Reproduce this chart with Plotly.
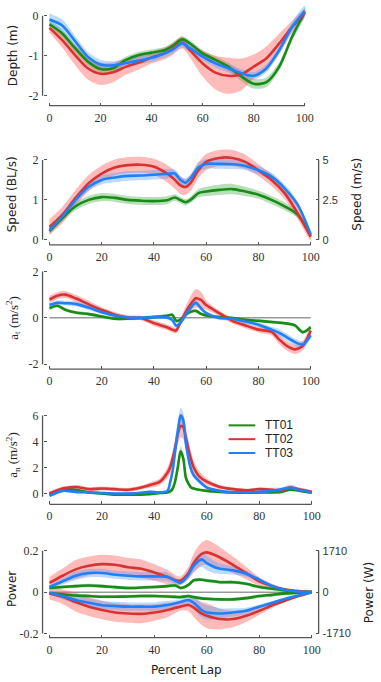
import plotly.graph_objects as go
import numpy as np

W, H = 381, 682

# ---- depth (m) ----
depth_x = [0, 5, 10, 15, 20, 25, 30, 35, 40, 45, 48, 52, 55, 60, 65, 70, 75, 80, 85, 90, 95, 100]
depth_tt01 = [-0.21, -0.44, -0.81, -1.14, -1.33, -1.31, -1.1, -0.98, -0.92, -0.86, -0.76, -0.59, -0.69, -0.94, -1.1, -1.27, -1.51, -1.7, -1.66, -1.27, -0.53, 0.09]
depth_tt02 = [-0.3, -0.61, -0.98, -1.31, -1.45, -1.41, -1.27, -1.17, -1.04, -0.94, -0.84, -0.67, -0.86, -1.19, -1.42, -1.5, -1.47, -1.27, -1.06, -0.69, -0.28, 0.07]
depth_tt03 = [-0.09, -0.24, -0.63, -1.02, -1.22, -1.24, -1.18, -1.12, -1.05, -0.94, -0.86, -0.69, -0.81, -1.02, -1.19, -1.31, -1.43, -1.5, -1.31, -0.86, -0.28, 0.12]
depth_sd01 = [0.1, 0.1, 0.1, 0.1, 0.1, 0.1, 0.08, 0.08, 0.08, 0.08, 0.08, 0.08, 0.08, 0.08, 0.08, 0.1, 0.12, 0.12, 0.12, 0.1, 0.1, 0.1]
depth_sd02 = [0.12, 0.18, 0.25, 0.28, 0.28, 0.25, 0.2, 0.17, 0.15, 0.15, 0.15, 0.15, 0.18, 0.33, 0.42, 0.45, 0.4, 0.3, 0.3, 0.25, 0.15, 0.1]
depth_sd03 = [0.15, 0.15, 0.13, 0.12, 0.12, 0.1, 0.1, 0.1, 0.1, 0.1, 0.1, 0.1, 0.1, 0.1, 0.1, 0.1, 0.1, 0.1, 0.1, 0.1, 0.12, 0.13]

# ---- speed (BL/s) ----
speed_x = [0, 5, 10, 15, 20, 25, 30, 35, 40, 45, 48, 50, 52, 54, 57, 60, 65, 70, 75, 80, 85, 90, 95, 100]
speed_tt01 = [0.22, 0.55, 0.84, 1.0, 1.07, 1.05, 1.0, 0.98, 0.97, 0.99, 1.06, 1.0, 0.94, 1.0, 1.17, 1.21, 1.25, 1.27, 1.21, 1.13, 1.0, 0.84, 0.63, 0.1]
speed_tt02 = [0.32, 0.63, 1.05, 1.42, 1.66, 1.81, 1.87, 1.88, 1.83, 1.66, 1.5, 1.37, 1.32, 1.42, 1.74, 1.95, 2.05, 2.05, 1.95, 1.74, 1.5, 1.17, 0.67, 0.08]
speed_tt03 = [0.25, 0.59, 1.0, 1.33, 1.5, 1.56, 1.6, 1.61, 1.63, 1.65, 1.66, 1.51, 1.43, 1.54, 1.81, 1.9, 1.9, 1.89, 1.85, 1.74, 1.58, 1.29, 0.88, 0.14]
speed_sd01 = [0.08, 0.1, 0.1, 0.1, 0.1, 0.1, 0.1, 0.1, 0.1, 0.1, 0.08, 0.08, 0.08, 0.08, 0.1, 0.12, 0.13, 0.13, 0.12, 0.1, 0.1, 0.1, 0.08, 0.05]
speed_sd02 = [0.2, 0.2, 0.2, 0.2, 0.2, 0.2, 0.2, 0.2, 0.2, 0.22, 0.22, 0.22, 0.2, 0.2, 0.2, 0.2, 0.2, 0.2, 0.18, 0.15, 0.15, 0.15, 0.15, 0.1]
speed_sd03 = [0.08, 0.1, 0.1, 0.1, 0.11, 0.12, 0.12, 0.12, 0.12, 0.12, 0.1, 0.1, 0.1, 0.1, 0.12, 0.12, 0.12, 0.12, 0.1, 0.1, 0.1, 0.1, 0.08, 0.05]

# ---- tangential acceleration ----
at_x = [0, 3, 6, 10, 15, 20, 25, 30, 35, 40, 45, 47, 48.5, 50, 53, 56, 58, 60, 65, 70, 75, 80, 85, 88, 91, 94, 97, 100]
at_tt01 = [0.41, 0.52, 0.35, 0.23, 0.16, 0.06, -0.04, -0.04, -0.01, 0.03, 0.09, 0.13, -0.13, -0.09, 0.2, 0.3, 0.17, 0.1, 0.03, -0.01, -0.09, -0.13, -0.18, -0.21, -0.25, -0.33, -0.62, -0.41]
at_tt02 = [0.79, 0.95, 1.0, 0.84, 0.58, 0.34, 0.13, 0.01, -0.01, -0.23, -0.41, -0.51, -0.55, -0.23, 0.41, 0.84, 0.77, 0.55, 0.2, -0.13, -0.33, -0.51, -0.61, -0.94, -1.22, -1.36, -1.2, -0.55]
at_tt03 = [0.55, 0.65, 0.63, 0.6, 0.44, 0.24, 0.1, 0.01, 0.0, 0.03, 0.01, -0.09, -0.34, -0.23, 0.27, 0.65, 0.41, 0.2, -0.01, -0.04, -0.16, -0.3, -0.51, -0.65, -0.85, -1.05, -1.15, -0.75]
at_sd01 = [0.07] * 28
at_sd02 = [0.15, 0.15, 0.15, 0.15, 0.15, 0.12, 0.12, 0.1, 0.1, 0.12, 0.12, 0.12, 0.12, 0.15, 0.3, 0.4, 0.35, 0.2, 0.12, 0.12, 0.12, 0.12, 0.15, 0.2, 0.2, 0.2, 0.2, 0.15]
at_sd03 = [0.1, 0.1, 0.1, 0.1, 0.1, 0.08, 0.08, 0.08, 0.08, 0.08, 0.08, 0.08, 0.1, 0.1, 0.1, 0.12, 0.1, 0.08, 0.08, 0.08, 0.1, 0.1, 0.12, 0.15, 0.15, 0.15, 0.15, 0.12]

# ---- normal acceleration ----
an_x = [0, 5, 10, 15, 20, 25, 30, 35, 38, 42, 45, 46, 47, 48, 49, 50, 51, 52, 53, 54, 55, 57, 60, 65, 70, 75, 80, 85, 88, 92, 95, 100]
an_tt01 = [-0.05, 0.28, 0.28, 0.08, 0.0, -0.1, -0.1, -0.1, -0.05, 0.03, 0.08, 0.15, 0.38, 1.0, 2.1, 3.24, 2.73, 1.22, 0.75, 0.46, 0.38, 0.28, 0.2, 0.12, 0.08, 0.05, 0.08, 0.08, 0.12, 0.28, 0.22, 0.08]
an_tt02 = [0.0, 0.38, 0.5, 0.33, 0.38, 0.33, 0.28, 0.46, 0.63, 0.89, 1.6, 2.0, 2.73, 3.6, 4.6, 5.2, 5.1, 4.3, 3.4, 2.6, 2.0, 1.34, 0.91, 0.5, 0.33, 0.25, 0.33, 0.28, 0.2, 0.46, 0.33, 0.12]
an_tt03 = [-0.18, 0.2, 0.12, 0.08, 0.03, 0.0, 0.0, 0.05, 0.12, 0.08, 0.2, 0.83, 1.8, 3.37, 4.9, 6.0, 5.65, 3.87, 2.7, 1.85, 1.4, 0.96, 0.46, 0.2, 0.08, 0.08, 0.12, 0.2, 0.3, 0.46, 0.28, 0.08]
an_sd01 = [0.1, 0.1, 0.1, 0.1, 0.1, 0.1, 0.1, 0.1, 0.1, 0.1, 0.1, 0.15, 0.2, 0.3, 0.35, 0.4, 0.4, 0.3, 0.2, 0.15, 0.1, 0.1, 0.1, 0.1, 0.1, 0.1, 0.1, 0.1, 0.1, 0.1, 0.1, 0.1]
an_sd02 = [0.15, 0.15, 0.15, 0.15, 0.15, 0.15, 0.15, 0.15, 0.2, 0.25, 0.4, 0.5, 0.6, 0.7, 0.8, 0.9, 0.9, 0.8, 0.7, 0.6, 0.5, 0.4, 0.25, 0.15, 0.12, 0.12, 0.12, 0.15, 0.25, 0.2, 0.15, 0.1]
an_sd03 = [0.1, 0.1, 0.1, 0.1, 0.1, 0.1, 0.1, 0.1, 0.1, 0.1, 0.15, 0.25, 0.35, 0.45, 0.55, 0.6, 0.6, 0.5, 0.4, 0.3, 0.2, 0.15, 0.1, 0.1, 0.1, 0.1, 0.1, 0.1, 0.1, 0.1, 0.1, 0.1]

# ---- power (positive / negative) ----
pw_x = [0, 5, 10, 15, 20, 25, 30, 35, 40, 45, 48, 50, 53, 55, 58, 60, 63, 65, 70, 75, 80, 85, 90, 95, 100]
pw_pos01 = [0.02, 0.025, 0.029, 0.032, 0.029, 0.024, 0.02, 0.022, 0.025, 0.029, 0.032, 0.02, 0.035, 0.057, 0.06, 0.056, 0.052, 0.048, 0.048, 0.04, 0.025, 0.016, 0.008, 0.003, 0.0]
pw_pos02 = [0.045, 0.079, 0.11, 0.127, 0.135, 0.132, 0.12, 0.113, 0.095, 0.073, 0.057, 0.056, 0.092, 0.14, 0.184, 0.192, 0.179, 0.167, 0.132, 0.092, 0.052, 0.029, 0.013, 0.005, 0.0]
pw_pos03 = [0.025, 0.052, 0.079, 0.092, 0.092, 0.084, 0.079, 0.076, 0.076, 0.074, 0.055, 0.045, 0.084, 0.127, 0.158, 0.14, 0.12, 0.113, 0.105, 0.089, 0.06, 0.029, 0.01, 0.003, 0.0]
pw_neg01 = [-0.006, -0.011, -0.016, -0.019, -0.022, -0.022, -0.021, -0.019, -0.019, -0.021, -0.023, -0.024, -0.019, -0.024, -0.03, -0.032, -0.034, -0.035, -0.035, -0.029, -0.019, -0.013, -0.006, -0.003, 0.0]
pw_neg02 = [-0.006, -0.022, -0.048, -0.07, -0.086, -0.098, -0.103, -0.105, -0.098, -0.086, -0.076, -0.07, -0.062, -0.075, -0.103, -0.114, -0.125, -0.13, -0.13, -0.114, -0.09, -0.063, -0.04, -0.019, 0.0]
pw_neg03 = [-0.003, -0.019, -0.038, -0.051, -0.063, -0.067, -0.07, -0.07, -0.07, -0.062, -0.054, -0.048, -0.038, -0.051, -0.086, -0.098, -0.102, -0.103, -0.098, -0.09, -0.07, -0.051, -0.032, -0.016, 0.0]
pw_sd01 = [0.008] * 25
pw_sd02 = [0.03, 0.035, 0.045, 0.045, 0.045, 0.045, 0.045, 0.045, 0.04, 0.035, 0.025, 0.02, 0.03, 0.045, 0.055, 0.06, 0.055, 0.05, 0.04, 0.03, 0.02, 0.012, 0.006, 0.003, 0.0]
pw_sd03 = [0.01, 0.015, 0.02, 0.02, 0.02, 0.02, 0.02, 0.02, 0.02, 0.02, 0.015, 0.012, 0.02, 0.03, 0.035, 0.035, 0.03, 0.025, 0.02, 0.015, 0.01, 0.008, 0.005, 0.002, 0.0]

names = ['TT01', 'TT02', 'TT03']
line_cols = ['#178c17', '#d83333', '#1f80fa']
band_cols = ['rgba(40,150,40,0.32)', 'rgba(255,90,90,0.42)', 'rgba(70,150,255,0.35)']

SERIF = 'Liberation Serif'
SANS = 'DejaVu Sans'


def px2y(p):
    return 1 - p / H


# panel geometry: value->pixel calibration, drawn range, axis-line extent
panels = [
    dict(cal=(0, 12, -2, 93), rng=(-2.15, 0.28), ext=(-2, 0), xax=103, xr=(50, 308), tv=[-2, -1, 0], tt=['-2', '-1', '0']),
    dict(cal=(0, 239, 2, 158), rng=(-0.12, 2.35), ext=(0, 2), xax=244, xr=(50, 314), tv=[0, 1, 2], tt=['0', '1', '2']),
    dict(cal=(0, 318, 2, 271), rng=(-2.1, 2.1), ext=(-2, 2), xax=370, xr=(50, 314), tv=[-2, 0, 2], tt=['-2', '0', '2']),
    dict(cal=(0, 496, 6, 417), rng=(-0.5, 7.0), ext=(-0.25, 6.0), xax=507, xr=(50, 315), tv=[0, 2, 4, 6], tt=['0', '2', '4', '6']),
    dict(cal=(0, 596, 0.2, 554), rng=(-0.23, 0.27), ext=(-0.2, 0.2), xax=642, xr=(50, 315), tv=[-0.2, 0, 0.2], tt=['-0.2', '0', '0.2']),
]

fig = go.Figure()
layout = {}
shapes = []
YLEFT = 43
YRIGHT = 322

for i, p in enumerate(panels):
    n = '' if i == 0 else str(i + 1)
    v0, p0, v1, p1 = p['cal']
    s = (p1 - p0) / (v1 - v0)
    top = p0 + (p['rng'][1] - v0) * s
    bot = p0 + (p['rng'][0] - v0) * s
    xs = (p['xr'][1] - p['xr'][0]) / 100.0
    xl = p['xr'][0] - 2 * xs
    xh = p['xr'][0] + 102 * xs
    layout['xaxis' + n] = dict(
        domain=[xl / W, xh / W], range=[-2, 102], anchor='free', position=px2y(p['xax']),
        showgrid=False, zeroline=False, showline=False, ticks='inside', ticklen=3,
        tickcolor='#555', tickwidth=1, tickvals=[0, 20, 40, 60, 80, 100],
        tickfont=dict(family=SERIF, size=12, color='#333'), ticklabelstandoff=3,
    )
    layout['yaxis' + n] = dict(
        domain=[px2y(bot), px2y(top)], range=list(p['rng']), anchor='free', position=YLEFT / W,
        showgrid=False, zeroline=False, showline=False, ticks='inside', ticklen=3,
        tickcolor='#555', tickwidth=1, tickvals=p['tv'], ticktext=p['tt'],
        tickfont=dict(family=SERIF, size=12, color='#333'), ticklabelstandoff=4,
    )
    # detached axis lines
    shapes.append(dict(type='line', xref='paper', yref='y' + n, x0=YLEFT / W, x1=YLEFT / W,
                       y0=p['ext'][0], y1=p['ext'][1], line=dict(color='#555', width=1.3)))
    shapes.append(dict(type='line', xref='x' + n, yref='paper', x0=0, x1=100,
                       y0=px2y(p['xax']), y1=px2y(p['xax']), line=dict(color='#555', width=1.3)))

# zero reference lines
for n in ['3', '5']:
    shapes.append(dict(type='line', xref='x' + n, yref='y' + n, x0=0, x1=100, y0=0, y1=0,
                       layer='below', line=dict(color='#999', width=1.5)))

# right-hand axes
layout['yaxis6'] = dict(
    overlaying='y2', side='right', anchor='free', position=YRIGHT / W, range=layout['yaxis2']['range'],
    showgrid=False, zeroline=False, showline=False, ticks='inside', ticklen=3, tickcolor='#555',
    tickvals=[0, 1, 2], ticktext=['0', '2.5', '5'], tickfont=dict(family='Liberation Sans', size=11, color='#333'),
    ticklabelstandoff=3,
)
layout['yaxis7'] = dict(
    overlaying='y5', side='right', anchor='free', position=YRIGHT / W, range=layout['yaxis5']['range'],
    showgrid=False, zeroline=False, showline=False, ticks='inside', ticklen=3, tickcolor='#555',
    tickvals=[-0.2, 0, 0.2], ticktext=['-1710', '0', '1710'], tickfont=dict(family='Liberation Sans', size=11, color='#333'),
    ticklabelstandoff=3,
)
for n, ext in [('2', (0, 2)), ('5', (-0.2, 0.2))]:
    shapes.append(dict(type='line', xref='paper', yref='y' + n, x0=YRIGHT / W, x1=YRIGHT / W,
                       y0=ext[0], y1=ext[1], line=dict(color='#555', width=1.3)))


def add_series(x, mean, sd, k, xa, ya):
    x = list(x)
    m = np.array(mean)
    d = np.array(sd)
    up = list(m + d)
    lo = list(m - d)
    fig.add_trace(go.Scatter(
        x=x + x[::-1], y=up + lo[::-1], fill='toself', fillcolor=band_cols[k],
        mode='lines', line=dict(width=0, shape='spline', smoothing=0.8),
        hoverinfo='skip', showlegend=False, xaxis=xa, yaxis=ya,
    ))
    return dict(x=x, y=list(m), name=names[k], mode='lines',
                line=dict(color=line_cols[k], width=2.6, shape='spline', smoothing=0.8),
                showlegend=False, xaxis=xa, yaxis=ya)


groups = [
    ('x', 'y', depth_x, [(depth_tt01, depth_sd01), (depth_tt02, depth_sd02), (depth_tt03, depth_sd03)]),
    ('x2', 'y2', speed_x, [(speed_tt01, speed_sd01), (speed_tt02, speed_sd02), (speed_tt03, speed_sd03)]),
    ('x3', 'y3', at_x, [(at_tt01, at_sd01), (at_tt02, at_sd02), (at_tt03, at_sd03)]),
    ('x4', 'y4', an_x, [(an_tt01, an_sd01), (an_tt02, an_sd02), (an_tt03, an_sd03)]),
]
for xa, ya, xx, series in groups:
    lines = []
    for k, (m, d) in enumerate(series):
        lines.append(add_series(xx, m, d, k, xa, ya))
    for ln in lines:
        fig.add_trace(go.Scatter(**ln))

pw_lines = []
for k, (pos, neg, sd) in enumerate([(pw_pos01, pw_neg01, pw_sd01), (pw_pos02, pw_neg02, pw_sd02), (pw_pos03, pw_neg03, pw_sd03)]):
    pw_lines.append(add_series(pw_x, pos, sd, k, 'x5', 'y5'))
    pw_lines.append(add_series(pw_x, neg, sd, k, 'x5', 'y5'))
for ln in pw_lines:
    fig.add_trace(go.Scatter(**ln))

# keep right axes alive
fig.add_trace(go.Scatter(x=[0], y=[0], mode='lines', opacity=0, showlegend=False, hoverinfo='skip', xaxis='x2', yaxis='y6'))
fig.add_trace(go.Scatter(x=[0], y=[0], mode='lines', opacity=0, showlegend=False, hoverinfo='skip', xaxis='x5', yaxis='y7'))

annotations = []
def ylab(text, xp, yp, family=SANS, size=12):
    annotations.append(dict(text=text, x=xp / W, y=px2y(yp), xref='paper', yref='paper', textangle=-90,
                            showarrow=False, font=dict(family=family, size=size, color='#222'),
                            xanchor='center', yanchor='middle'))

ylab('Depth (m)', 13, 52)
ylab('Speed (BL/s)', 13, 193)
ylab('a<sub>t</sub> (m/s<sup>2</sup>)', 13, 318, family=SERIF, size=13)
ylab('a<sub>n</sub> (m/s<sup>2</sup>)', 13, 457, family=SERIF, size=13)
ylab('Power', 12, 593)
ylab('Speed (m/s)', 361, 193)
ylab('Power (W)', 373, 597)
annotations.append(dict(text='Percent Lap', x=188 / W, y=px2y(675), xref='paper', yref='paper',
                        showarrow=False, font=dict(family=SANS, size=12, color='#222'),
                        xanchor='center', yanchor='middle'))

# legend box in the a_n panel
for k, yp in enumerate([427, 441, 455]):
    shapes.append(dict(type='line', xref='paper', yref='paper', x0=231 / W, x1=258 / W,
                       y0=px2y(yp), y1=px2y(yp), line=dict(color=line_cols[k], width=2)))
    annotations.append(dict(text=names[k], x=266 / W, y=px2y(yp), xref='paper', yref='paper',
                            showarrow=False, xanchor='left', yanchor='middle',
                            font=dict(family='Liberation Sans', size=12, color='#222')))

fig.update_layout(
    width=W, height=H, margin=dict(l=0, r=0, t=0, b=0),
    paper_bgcolor='white', plot_bgcolor='rgba(0,0,0,0)',
    shapes=shapes, annotations=annotations, showlegend=False,
    **layout,
)

fig.write_html("out.html", config={'displayModeBar': False},
               post_script="document.body.style.margin='0';")
